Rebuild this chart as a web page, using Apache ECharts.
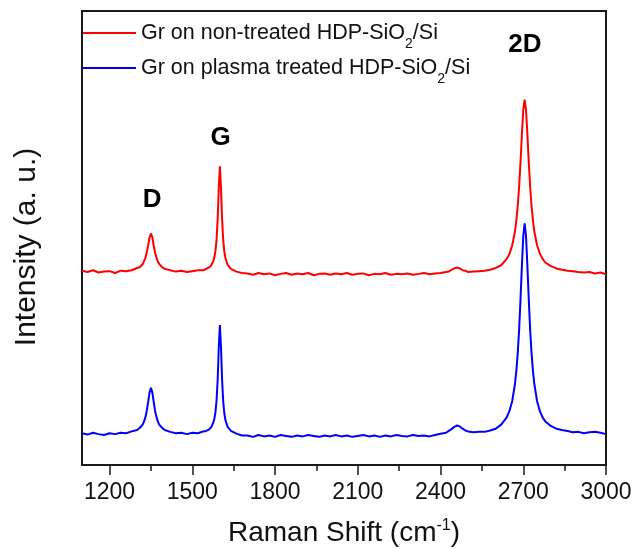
<!DOCTYPE html>
<html>
<head>
<meta charset="utf-8">
<script src="https://cdn.jsdelivr.net/npm/echarts@6/dist/echarts.min.js"></script>
<style>
html,body{margin:0;padding:0;background:#fff;}
#chart{width:635px;height:549px;}
</style>
</head>
<body>
<div id="chart"></div>
<script>
// Raman shift (cm^-1)
var ramanShift = [
1100,1120,1140,1160,1180,1200,1220,1240,1260,1280,
1300,1310,1320,1325,1330,1335,1340,1345,1350,1355,
1360,1365,1370,1375,1380,1390,1400,1420,1440,1460,
1480,1500,1520,1540,1550,1560,1568,1572,1576,1580,
1584,1588,1592,1596,1600,1604,1608,1612,1616,1620,
1628,1640,1660,1680,1700,1720,1740,1760,1780,1800,
1820,1840,1860,1880,1900,1920,1940,1960,1980,2000,
2020,2040,2060,2080,2100,2120,2140,2160,2180,2200,
2220,2240,2260,2280,2300,2320,2340,2360,2380,2400,
2420,2430,2440,2450,2460,2470,2480,2490,2500,2520,
2540,2560,2580,2600,2620,2640,2650,2660,2670,2675,
2680,2685,2690,2695,2700,2705,2710,2715,2720,2725,
2730,2735,2740,2750,2760,2770,2780,2800,2820,2840,
2860,2880,2900,2920,2940,2960,2980,3000
];
// Gr on non-treated HDP-SiO2/Si (offset intensity, a.u.)
var nonTreated = [
42.8,42.5,42.9,42.4,42.6,42.7,42.3,42.8,42.7,42.9,
43.4,43.6,44.2,44.9,45.6,46.9,48.4,50.1,51.0,50.2,
48.3,46.8,45.7,44.8,44.3,43.6,43.2,42.9,42.6,42.8,
42.5,42.7,42.9,42.9,43.2,43.5,43.9,44.3,44.9,45.8,
47.2,49.7,54.2,61.2,65.8,61.1,54.1,49.6,47.0,45.6,
44.1,43.2,42.6,42.3,42.2,41.9,42.3,42.0,42.2,41.8,
42.1,42.3,41.9,42.2,42.0,42.3,41.8,42.1,42.2,41.9,
42.2,42.0,42.3,41.9,42.1,42.2,41.8,42.1,42.0,42.3,
41.9,42.1,42.0,42.2,41.9,42.1,42.3,42.0,42.2,42.3,
42.5,42.6,43.0,43.3,43.5,43.3,42.9,42.8,42.5,42.6,
42.7,42.8,43.0,43.4,44.0,45.4,46.5,48.4,51.5,53.9,
57.1,61.3,66.7,72.8,78.2,80.5,78.2,72.8,66.7,61.3,
57.1,53.9,51.5,48.4,46.6,45.4,44.6,43.8,43.3,43.0,
42.8,42.7,42.5,42.4,42.5,42.2,42.4,42.0
];
// Gr on plasma treated HDP-SiO2/Si (offset intensity, a.u.)
var plasmaTreated = [
7.0,6.7,7.1,6.8,6.6,7.0,6.8,7.1,7.0,7.4,
7.7,8.2,8.9,9.6,10.5,12.0,13.9,16.0,17.0,16.0,
13.9,11.9,10.6,9.6,8.9,8.2,7.7,7.3,7.0,7.1,
6.8,7.1,7.0,7.4,7.5,7.8,8.3,8.7,9.3,10.2,
11.7,14.3,18.9,26.1,30.8,26.0,18.8,14.0,11.4,9.9,
8.4,7.5,6.9,6.5,6.5,6.2,6.6,6.3,6.5,6.2,
6.6,6.4,6.2,6.5,6.3,6.6,6.4,6.2,6.5,6.3,
6.6,6.3,6.5,6.2,6.4,6.6,6.3,6.5,6.2,6.5,
6.3,6.6,6.4,6.3,6.6,6.4,6.5,6.3,6.6,6.9,
7.1,7.5,7.9,8.4,8.7,8.5,8.0,7.6,7.4,7.2,
7.3,7.3,7.6,8.0,8.9,10.5,11.9,14.1,17.9,20.8,
24.7,29.8,36.4,43.8,50.4,53.2,50.4,43.8,36.4,29.8,
24.7,20.8,17.9,14.1,11.9,10.5,9.6,8.6,8.0,7.7,
7.5,7.2,7.3,7.0,7.2,7.3,7.1,6.8
];
var majorTicks = [1200,1500,1800,2100,2400,2700,3000];
var minorTicks = [1350,1650,1950,2250,2550,2850];
var peakNames = ['D','G','2D'];
var peakLabelX = [1354,1603,2706];
var peakLabelY = [58.5,72.1,92.5];

var FONT = "'Liberation Sans', Arial, sans-serif";
function pairs(xs, ys){ var o=[]; for (var i=0;i<xs.length;i++) o.push([xs[i], ys[i]]); return o; }
var marks = peakNames.map(function(n,i){ return {name:n, coord:[peakLabelX[i], peakLabelY[i]]}; });

var chart = echarts.init(document.getElementById('chart'), null, {renderer:'canvas'});
chart.setOption({
  animation:false,
  backgroundColor:'#fff',
  grid:{left:82,right:29,top:11,bottom:84,show:true,borderColor:'#1a1a1a',borderWidth:2,containLabel:false,outerBoundsMode:'none'},
  legend:{
    orient:'vertical', left:83, top:22, padding:0, itemWidth:53, itemHeight:2, itemGap:6,
    icon:'rect',
    data:['Gr on non-treated HDP-SiO2/Si','Gr on plasma treated HDP-SiO2/Si'],
    formatter:function(name){
      var p = name.split('SiO2');
      return '{a|'+p[0]+'SiO}{s|2}{a|'+p[1]+'}';
    },
    textStyle:{fontFamily:FONT,fontSize:21.5,color:'#111',
      rich:{a:{fontFamily:FONT,fontSize:21.5,lineHeight:24,color:'#111'},
            s:{fontFamily:FONT,fontSize:14,lineHeight:14,color:'#111',padding:[11,0,-11,0]}}}
  },
  xAxis:[{
    type:'value', min:1100, max:3000, position:'bottom',
    name:'{a|Raman Shift (cm}{u|-1}{a|)}', nameLocation:'middle', nameGap:54,
    nameTextStyle:{fontFamily:FONT,fontSize:28,color:'#111',
      rich:{a:{fontFamily:FONT,fontSize:28,lineHeight:28,color:'#111'},
            u:{fontFamily:FONT,fontSize:16,lineHeight:16,color:'#111',padding:[-7,0,7,0]}}},
    axisLine:{show:true,lineStyle:{color:'#1a1a1a',width:2}},
    axisTick:{show:true,inside:false,length:10,customValues:majorTicks,lineStyle:{color:'#1a1a1a',width:1.5}},
    axisLabel:{show:true,margin:16,customValues:majorTicks,fontFamily:FONT,fontSize:23,color:'#111',
      formatter:function(v){ return String(v); }},
    splitLine:{show:false}
  },{
    type:'value', min:1100, max:3000, position:'bottom',
    axisLine:{show:false},
    axisTick:{show:true,inside:false,length:6,customValues:minorTicks,lineStyle:{color:'#1a1a1a',width:1.5}},
    axisLabel:{show:false},
    splitLine:{show:false}
  }],
  yAxis:{
    type:'value', min:0, max:100,
    name:'Intensity (a. u.)', nameLocation:'middle', nameGap:40, nameRotate:90,
    nameTextStyle:{fontFamily:FONT,fontSize:30,color:'#111',padding:[0,18,0,0]},
    axisLine:{show:true,lineStyle:{color:'#1a1a1a',width:2}},
    axisTick:{show:false}, axisLabel:{show:false}, splitLine:{show:false}
  },
  series:[{
    name:'Gr on non-treated HDP-SiO2/Si', type:'line', xAxisIndex:0,
    data:pairs(ramanShift, nonTreated), showSymbol:false, symbol:'none',
    lineStyle:{color:'#ff0000',width:2}, itemStyle:{color:'#ff0000'},
    markPoint:{symbol:'circle',symbolSize:1,itemStyle:{color:'rgba(0,0,0,0)'},
      label:{show:true,position:'inside',formatter:'{b}',fontFamily:FONT,fontWeight:'bold',fontSize:26,color:'#000'},
      data:marks}
  },{
    name:'Gr on plasma treated HDP-SiO2/Si', type:'line', xAxisIndex:0,
    data:pairs(ramanShift, plasmaTreated), showSymbol:false, symbol:'none',
    lineStyle:{color:'#0000ff',width:2}, itemStyle:{color:'#0000ff'}
  }]
});
</script>
</body>
</html>
